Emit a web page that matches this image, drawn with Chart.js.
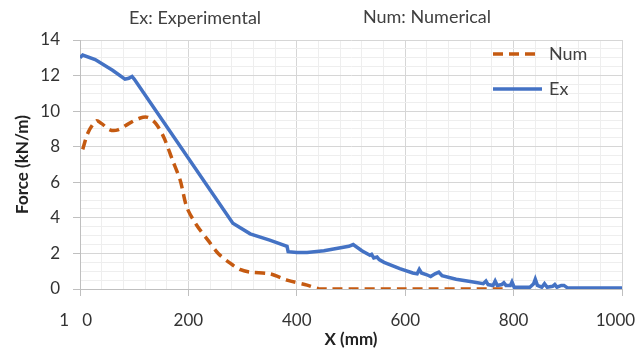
<!DOCTYPE html>
<html lang="en">
<head>
    <meta charset="UTF-8">
    <title>Force vs X</title>
    <script src="https://cdn.jsdelivr.net/npm/chart.js"></script>
    <style>
        body {
            margin: 0;
            background: #ffffff;
        }
        #wrap {
            width: 636px;
            height: 356px;
        }
    </style>
</head>
<body>
    <div id="wrap"><canvas id="forceChart" width="636" height="356"></canvas></div>

    <script>
        // Experimental curve (Ex)
        const exX = [0, 5, 28, 60, 83, 90, 96, 100, 282, 314, 350, 382, 384, 400, 419, 450, 496, 504, 520, 535, 538, 542, 548, 552, 561, 590, 614, 622, 626, 630, 640, 647, 655, 662, 668, 694, 720, 744, 749, 753, 762, 766, 770, 778, 782, 786, 794, 797, 801, 830, 837, 840, 844, 852, 857, 862, 872, 876, 880, 888, 893, 900, 1000];
        const exForce = [13.0, 13.15, 12.9, 12.3, 11.8, 11.85, 11.95, 11.8, 3.7, 3.1, 2.75, 2.4, 2.1, 2.05, 2.05, 2.15, 2.4, 2.5, 2.15, 1.9, 1.95, 1.75, 1.8, 1.65, 1.5, 1.15, 0.9, 0.85, 1.1, 0.9, 0.8, 0.7, 0.85, 0.95, 0.75, 0.55, 0.42, 0.3, 0.45, 0.25, 0.2, 0.45, 0.2, 0.25, 0.35, 0.2, 0.2, 0.4, 0.1, 0.1, 0.3, 0.55, 0.2, 0.1, 0.3, 0.1, 0.15, 0.25, 0.1, 0.2, 0.2, 0.05, 0.05];

        // Numerical curve (Num)
        const numX = [5, 15, 30, 40, 55, 70, 90, 110, 125, 140, 155, 170, 185, 197, 215, 236, 255, 277, 295, 314, 351, 382, 419, 440, 460, 600, 780];
        const numForce = [7.85, 8.8, 9.45, 9.3, 8.95, 8.95, 9.3, 9.6, 9.65, 9.3, 8.5, 7.3, 6.1, 4.6, 3.6, 2.75, 2.0, 1.45, 1.1, 0.95, 0.85, 0.5, 0.22, 0.02, 0, 0, 0];

        const xMajor = [0, 200, 400, 600, 800, 1000];
        const yMajor = [0, 2, 4, 6, 8, 10, 12, 14];

        const blue = '#4472C4';
        const orange = '#C55A11';
        const font = 'Lato, "Open Sans", sans-serif';

        function pts(xs, ys) {
            return xs.map((x, i) => ({ x: x, y: ys[i] }));
        }

        // header text + legend
        const extras = {
            id: 'extras',
            afterDraw(chart) {
                const c = chart.ctx;
                c.save();
                c.fillStyle = '#404040';
                c.font = '18px ' + font;
                c.textAlign = 'center';
                c.textBaseline = 'middle';
                c.fillText('Ex: Experimental', 195, 18);
                c.fillText('Num: Numerical', 427, 17);

                c.lineWidth = 3.5;
                c.strokeStyle = orange;
                c.setLineDash([10, 6]);
                c.beginPath();
                c.moveTo(493, 54);
                c.lineTo(540, 54);
                c.stroke();
                c.setLineDash([]);
                c.strokeStyle = blue;
                c.beginPath();
                c.moveTo(493, 89);
                c.lineTo(542, 89);
                c.stroke();

                c.textAlign = 'left';
                c.fillText('Num', 549, 54);
                c.fillText('Ex', 549, 89);
                c.restore();
            }
        };

        new Chart(document.getElementById('forceChart'), {
            type: 'scatter',
            data: {
                datasets: [{
                    label: 'Num',
                    data: pts(numX, numForce),
                    showLine: true,
                    borderColor: orange,
                    borderWidth: 3.5,
                    borderDash: [10, 6],
                    tension: 0.3,
                    pointRadius: 0
                }, {
                    label: 'Ex',
                    data: pts(exX, exForce),
                    showLine: true,
                    borderColor: blue,
                    borderWidth: 3.5,
                    tension: 0,
                    pointRadius: 0
                }]
            },
            options: {
                responsive: false,
                animation: false,
                layout: { padding: { top: 40, right: 14, left: 0, bottom: 0 } },
                plugins: {
                    legend: { display: false },
                    tooltip: { enabled: false }
                },
                scales: {
                    x: {
                        type: 'linear',
                        min: 0,
                        max: 1000,
                        afterFit(s) { s.height = 67; s.paddingRight = 0; s.paddingLeft = 0; },
                        ticks: {
                            stepSize: 40,
                            autoSkip: false,
                            maxRotation: 0,
                            padding: 14,
                            color: '#333',
                            font: { family: font, size: 17 },
                            callback(v) {
                                if (v === 0) return '1   0  ';
                                if (v === 1000) return '1000   ';
                                return xMajor.includes(v) ? String(v) : '';
                            }
                        },
                        grid: {
                            tickLength: 7,
                            color: ctx => xMajor.includes(ctx.tick.value) ? '#d6d6d6' : '#eeeeee',
                            tickColor: ctx => xMajor.includes(ctx.tick.value) ? '#bfbfbf' : 'rgba(0,0,0,0)'
                        },
                        border: { color: '#bfbfbf' },
                        title: {
                            display: true,
                            text: 'X (mm)',
                            color: '#222',
                            font: { family: font, size: 17, weight: 'bold' },
                            padding: { top: 0, bottom: 6 }
                        }
                    },
                    y: {
                        min: 0,
                        max: 14,
                        afterFit(s) { s.width = 80; },
                        ticks: {
                            stepSize: 0.5,
                            autoSkip: false,
                            padding: 13,
                            color: '#333',
                            font: { family: font, size: 17 },
                            callback(v) {
                                return yMajor.includes(v) ? String(v) : '';
                            }
                        },
                        grid: {
                            tickLength: 7,
                            color: ctx => yMajor.includes(ctx.tick.value) ? '#d6d6d6' : '#eeeeee',
                            tickColor: ctx => yMajor.includes(ctx.tick.value) ? '#bfbfbf' : 'rgba(0,0,0,0)'
                        },
                        border: { color: '#bfbfbf' },
                        title: {
                            display: true,
                            text: 'Force (kN/m)',
                            color: '#222',
                            font: { family: font, size: 17, weight: 'bold' },
                            padding: { top: 12, bottom: 0 }
                        }
                    }
                }
            },
            plugins: [extras]
        });
    </script>
</body>
</html>
